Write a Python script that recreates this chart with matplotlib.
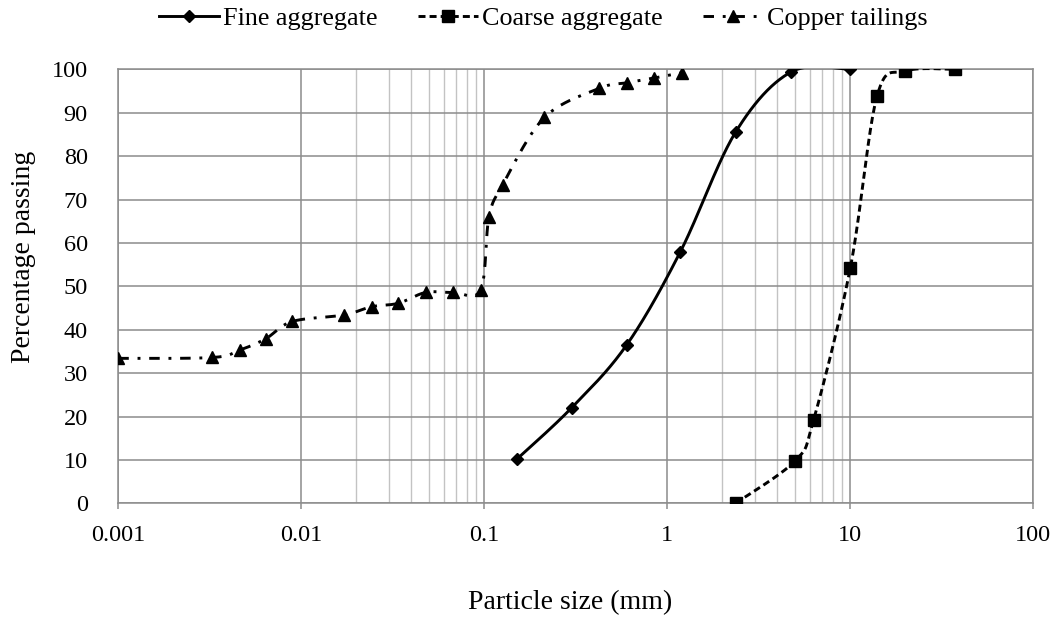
import numpy as np
import matplotlib
matplotlib.use("Agg")
import matplotlib.pyplot as plt
from matplotlib.ticker import FixedLocator, FixedFormatter, NullFormatter

plt.rcParams["font.family"] = ["Liberation Serif", "DejaVu Serif"]

# Sieve analysis results (particle size in mm, cumulative % passing)
fine_size = [0.15, 0.3, 0.6, 1.18, 2.36, 4.75, 10]
fine_pass = [10.1, 22.0, 36.5, 58.0, 85.5, 99.4, 100]

coarse_size = [2.36, 5.0, 6.3, 10, 14, 20, 37.5]
coarse_pass = [0, 9.8, 19.2, 54.2, 93.8, 99.6, 100]

copper_size = [0.001, 0.00327, 0.0046, 0.00638, 0.00893, 0.0171, 0.0242,
               0.0339, 0.0479, 0.0675, 0.0955, 0.106, 0.126, 0.213, 0.424,
               0.599, 0.847, 1.197]
copper_pass = [33.4, 33.6, 35.3, 37.9, 41.9, 43.4, 45.3, 46.1, 48.6, 48.6,
               49.2, 65.9, 73.4, 88.9, 95.6, 96.9, 98.0, 99.2]

series_names = ["Fine aggregate", "Coarse aggregate", "Copper tailings"]
x_tick_values = [0.001, 0.01, 0.1, 1, 10, 100]
x_tick_labels = ["0.001", "0.01", "0.1", "1", "10", "100"]
y_tick_values = list(range(0, 101, 10))


def smooth_curve(sizes, values, steps=40):
    """Catmull-Rom style Bezier smoothing in (log size, value) space.
    Returns the sampled curve and the indices of the original points."""
    u = np.log10(np.asarray(sizes, dtype=float))
    v = np.asarray(values, dtype=float)
    pts = np.column_stack([u, v])
    n = len(pts)
    out = []
    idx = []
    count = 0
    t = np.linspace(0.0, 1.0, steps, endpoint=False)[:, None]
    for i in range(n - 1):
        p0 = pts[max(i - 1, 0)]
        p1 = pts[i]
        p2 = pts[i + 1]
        p3 = pts[min(i + 2, n - 1)]
        c1 = p1 + (p2 - p0) / 6.0
        c2 = p2 - (p3 - p1) / 6.0
        seg = ((1 - t) ** 3 * p1 + 3 * (1 - t) ** 2 * t * c1
               + 3 * (1 - t) * t ** 2 * c2 + t ** 3 * p2)
        idx.append(count)
        out.append(seg)
        count += len(seg)
    idx.append(count)
    out.append(pts[-1][None, :])
    curve = np.vstack(out)
    return 10 ** curve[:, 0], curve[:, 1], idx


fig = plt.figure(figsize=(10.6, 6.19), dpi=100)
ax = fig.add_axes([0.1116, 0.1869, 0.8632, 0.7011])

styles = [
    dict(ls="-", marker="D", ms=6.0),
    dict(ls=(0, (2.4, 1.4)), marker="s", ms=8.2),
    dict(ls=(0, (3.6, 3.0, 1.0, 3.0)), marker="^", ms=8.2),
]
data = [(fine_size, fine_pass), (coarse_size, coarse_pass),
        (copper_size, copper_pass)]

for (sz, pc), name, st in zip(data, series_names, styles):
    xs, ys, marks = smooth_curve(sz, pc)
    ax.plot(xs, ys, color="black", lw=2.1, linestyle=st["ls"],
            dash_capstyle="butt",
            marker=st["marker"], ms=st["ms"], markevery=marks,
            markerfacecolor="black", markeredgecolor="black",
            label=name, zorder=3)

ax.set_xscale("log")
ax.set_xlim(0.001, 100)
ax.set_ylim(0, 100)

ax.xaxis.set_major_locator(FixedLocator(x_tick_values))
ax.xaxis.set_major_formatter(FixedFormatter(x_tick_labels))
minor_positions = [m * 10.0 ** d for d in (-2, 0) for m in range(2, 10)]
ax.xaxis.set_minor_locator(FixedLocator(minor_positions))
ax.xaxis.set_minor_formatter(NullFormatter())
ax.set_yticks(y_tick_values)

grid_dark = "#8c8c8c"
grid_light = "#c3c3c3"
ax.set_axisbelow(True)
ax.grid(which="major", axis="both", color=grid_dark, lw=1.1)
ax.grid(which="minor", axis="x", color=grid_light, lw=1.0)
for sp in ax.spines.values():
    sp.set_color(grid_dark)
    sp.set_linewidth(1.1)

ax.tick_params(axis="x", which="major", length=4.3, width=1.1,
               color=grid_dark, pad=11, labelsize=17.5)
ax.tick_params(axis="x", which="minor", length=0)
ax.tick_params(axis="y", which="major", length=0, pad=22, labelsize=17.5)

ax.set_xlabel("Particle size (mm)", fontsize=20)
ax.xaxis.set_label_coords(0.494, -0.20)
ax.set_ylabel("Percentage passing", fontsize=20)
ax.yaxis.label.set_verticalalignment("center")
ax.yaxis.set_label_coords(-0.104, 0.5675)

fig.legend(loc="center", bbox_to_anchor=(543 / 1060, 1 - 18 / 619),
           ncol=3, frameon=False, fontsize=18.8, handlelength=2.3,
           handletextpad=0.15, columnspacing=1.55, borderaxespad=0)

fig.savefig("out.png", dpi=100)
